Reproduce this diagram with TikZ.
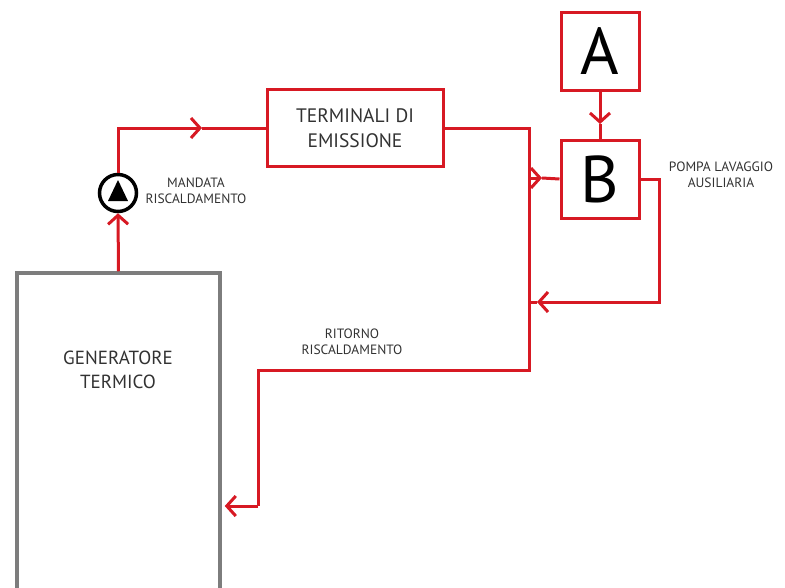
\documentclass[tikz,border=0pt]{standalone}
\usepackage{fontspec}
\setmainfont{PT Sans}
\usetikzlibrary{arrows.meta,positioning}
\definecolor{pipered}{RGB}{215,25,35}
\definecolor{txtgray}{RGB}{50,50,50}
\definecolor{boxgray}{RGB}{125,125,125}
\tikzset{
  pipe/.style={draw=pipered, line width=3pt},
  chev/.style={-{Straight Barb[length=9pt,width=20pt]}},
  redbox/.style={draw=pipered, line width=3pt, fill=white, inner sep=0pt,
    minimum width=78pt, minimum height=78pt},
  small/.style={text=txtgray, font=\fontsize{13.5}{16.5}\selectfont, align=center},
  big/.style={text=txtgray, font=\fontsize{19}{24}\selectfont, align=center}
}
\begin{document}
\begin{tikzpicture}[x=1pt,y=-1pt]
\useasboundingbox (0,0) rectangle (785,587);
%----------------generatore e pompa----------
\node[draw=boxgray, line width=3.5pt, minimum width=203pt, minimum height=327pt] (gen) at (118.5,436.5) {};
\node[big] (gentxt) at (118,370) {GENERATORE\\TERMICO};
\node[circle, draw=black, line width=3.5pt, fill=white, minimum size=37pt, inner sep=0pt] (pump) at (118,193) {};
\fill[black] (118,180) -- (128,201) -- (108,201) -- cycle;
\node[small] (mandata) at (196,191) {MANDATA\\RISCALDAMENTO};
%----------------terminali----------
\node[redbox, minimum width=176pt, minimum height=77pt, big, font=\fontsize{19.5}{25}\selectfont] (term) at (355,128) {TERMINALI DI\\EMISSIONE};
\node[redbox, font=\fontsize{66}{66}\selectfont] (A) at (600,51.5) {A};
\node[redbox, font=\fontsize{66}{66}\selectfont] (B) at (600,179) {B};
\node[small] (pompa) at (721,175) {POMPA LAVAGGIO\\AUSILIARIA};
\node[small] (ritorno) at (352,342) {RITORNO\\RISCALDAMENTO};
%----------------mandata----------
\draw[pipe, chev] (gen.north) -- (pump.south);
\coordinate (m1) at (202,128);
\draw[pipe, chev] (pump.north) |- (m1);
\draw[pipe] (m1) -- (term.west);
%----------------ritorno----------
\coordinate (r1) at (529,370);
\coordinate (r2) at (258,506);
\draw[pipe] (term.east) -| (r1) -| (r2);
\draw[pipe, chev, shorten >=3pt] (r2) -- (gen.east |- r2);
%----------------pompa lavaggio----------
\coordinate (b0) at (529,178);
\coordinate (b1) at (542,178);
\draw[pipe, chev] (b0) -- (b1);
\draw[pipe] (b1) -- (B.west);
\coordinate (ab) at (600,124);
\draw[pipe, chev] (A.south) -- (ab);
\draw[pipe] (ab) -- (B.north);
\coordinate (b2) at (659,302);
\coordinate (b3) at (537,302);
\draw[pipe, chev] (B.east) -| (b2) -- (b3);
\draw[pipe] (b3) -- (529,302);
\end{tikzpicture}
\end{document}
